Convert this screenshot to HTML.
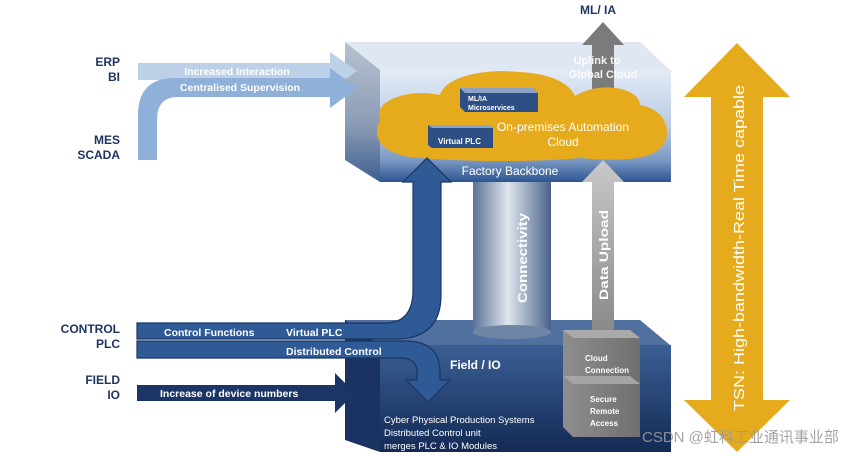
<!DOCTYPE html>
<html><head><meta charset="utf-8"><style>
html,body{margin:0;padding:0;background:#fff;}
svg{display:block;font-family:"Liberation Sans","Noto Sans CJK SC",sans-serif;}
</style></head><body>
<svg width="865" height="456" viewBox="0 0 865 456" xmlns="http://www.w3.org/2000/svg">
<defs>
<linearGradient id="topF" x1="0" y1="0" x2="0" y2="1">
<stop offset="0" stop-color="#e3ebf6"/><stop offset="0.5" stop-color="#b9cbe3"/><stop offset="0.8" stop-color="#7d9ac4"/><stop offset="1" stop-color="#2c5591"/></linearGradient>
<linearGradient id="topS" x1="0" y1="0" x2="0" y2="1">
<stop offset="0" stop-color="#b8c2d0"/><stop offset="0.6" stop-color="#8a9bb5"/><stop offset="1" stop-color="#3e5f8f"/></linearGradient>
<linearGradient id="botF" x1="0" y1="0" x2="0" y2="1">
<stop offset="0" stop-color="#3a5f94"/><stop offset="1" stop-color="#142a55"/></linearGradient>
<linearGradient id="cyl" x1="0" y1="0" x2="1" y2="0">
<stop offset="0" stop-color="#5b7396"/><stop offset="0.45" stop-color="#dfe5ee"/><stop offset="1" stop-color="#4a6288"/></linearGradient>
<linearGradient id="gray" x1="0" y1="0" x2="1" y2="0">
<stop offset="0" stop-color="#8e8e8e"/><stop offset="1" stop-color="#6f6f6f"/></linearGradient>
<linearGradient id="grayArr" x1="0" y1="0" x2="0" y2="1">
<stop offset="0" stop-color="#c8c8c8"/><stop offset="1" stop-color="#8a8a8a"/></linearGradient>
</defs>

<!-- top box -->
<polygon points="345,42 640,42 670,70 380,70" fill="#dfe7f3"/>
<polygon points="345,42 380,70 380,182 345,160" fill="url(#topS)"/>
<rect x="380" y="70" width="291" height="112" fill="url(#topF)"/>
<!-- uplink arrow -->
<polygon points="603,22 624,45 614,45 614,92 592,92 592,45 582,45" fill="#7b7b7b"/>
<text x="597" y="64" font-size="11" fill="#fff" text-anchor="middle" font-weight="bold" opacity="0.9">Uplink to</text>
<text x="603" y="78" font-size="11" fill="#fff" text-anchor="middle" font-weight="bold" opacity="0.9">Global Cloud</text>
<text x="598" y="14" font-size="12" fill="#1f3560" text-anchor="middle" font-weight="bold">ML/ IA</text>
<!-- cloud -->
<path d="M380,120 C372,100 410,88 440,95 C445,78 480,68 520,72 C555,74 570,85 575,96 C600,80 640,88 640,105 C670,110 675,140 655,152 C640,162 600,160 580,158 C540,162 470,162 420,158 C385,156 370,140 380,120 Z" fill="#e5ab1c"/>
<text x="563" y="131" font-size="12" fill="#fff" text-anchor="middle">On-premises Automation</text>
<text x="563" y="146" font-size="12" fill="#fff" text-anchor="middle">Cloud</text>
<polygon points="460,88 533,88 538,93 538,112 465,112 460,107" fill="#2e4e86"/>
<polygon points="460,88 533,88 538,93 465,93" fill="#8ba3c8"/>
<text x="468" y="101" font-size="7" fill="#fff" font-weight="bold">ML/IA</text>
<text x="468" y="110" font-size="7" fill="#fff" font-weight="bold">Microservices</text>
<polygon points="428,125 490,125 493,128 493,148 432,148 428,145" fill="#2e4e86"/>
<polygon points="428,125 490,125 493,128 432,128" fill="#8ba3c8"/>
<text x="438" y="144" font-size="8" fill="#fff" font-weight="bold">Virtual PLC</text>
<text x="510" y="175" font-size="12" fill="#fff" text-anchor="middle">Factory Backbone</text>

<!-- cylinder -->
<rect x="473" y="182" width="78" height="150" fill="url(#cyl)"/>
<text transform="translate(527,303) rotate(-90)" font-size="13" fill="#fff" font-weight="bold" textLength="90" lengthAdjust="spacingAndGlyphs">Connectivity</text>

<!-- bottom box -->
<polygon points="345,320 640,320 670,345 380,345" fill="#50709f"/>
<polygon points="345,320 380,345 380,452 345,440" fill="#1b3363"/>
<rect x="380" y="345" width="291" height="107" fill="url(#botF)"/>
<rect x="473" y="320" width="78" height="12" fill="url(#cyl)"/>
<ellipse cx="512" cy="332" rx="39" ry="7" fill="#6f85a6"/>
<text x="450" y="369" font-size="12" fill="#fff" font-weight="bold">Field / IO</text>
<text x="384" y="423" font-size="9.5" fill="#fff">Cyber Physical Production Systems</text>
<text x="384" y="436" font-size="9.5" fill="#fff">Distributed Control unit</text>
<text x="384" y="449" font-size="9.5" fill="#fff">merges PLC &amp; IO Modules</text>

<!-- data upload arrow -->
<polygon points="603,160 624,182 614,182 614,330 592,330 592,182 582,182" fill="url(#grayArr)"/>
<text transform="translate(608,300) rotate(-90)" font-size="12" fill="#fff" font-weight="bold" textLength="90" lengthAdjust="spacingAndGlyphs">Data Upload</text>
<!-- gray boxes -->
<polygon points="563,330 630,330 640,338 640,388 573,388 563,378" fill="url(#gray)"/>
<polygon points="563,330 630,330 640,338 573,338" fill="#aaa"/>
<polygon points="563,376 630,376 640,384 640,437 573,437 563,427" fill="url(#gray)"/>
<polygon points="563,376 630,376 640,384 573,384" fill="#a5a5a5"/>
<text x="585" y="361" font-size="8" fill="#fff" font-weight="bold">Cloud</text>
<text x="585" y="373" font-size="8" fill="#fff" font-weight="bold">Connection</text>
<text x="590" y="402" font-size="8" fill="#fff" font-weight="bold">Secure</text>
<text x="590" y="414" font-size="8" fill="#fff" font-weight="bold">Remote</text>
<text x="590" y="426" font-size="8" fill="#fff" font-weight="bold">Access</text>

<!-- orange double arrow -->
<polygon points="737,43 790,97 763,97 763,400 790,400 737,452 684,400 711,400 711,97 684,97" fill="#e5ab1c"/>
<text transform="translate(744,411) rotate(-90)" font-size="15" fill="#fff" textLength="326" lengthAdjust="spacingAndGlyphs">TSN: High-bandwidth-Real Time capable</text>

<!-- left labels -->
<g font-size="12" fill="#1f3560" font-weight="bold" text-anchor="end">
<text x="120" y="66">ERP</text><text x="120" y="81">BI</text>
<text x="120" y="144">MES</text><text x="120" y="159">SCADA</text>
<text x="120" y="333">CONTROL</text><text x="120" y="348">PLC</text>
<text x="120" y="384">FIELD</text><text x="120" y="399">IO</text>
</g>
<!-- top left arrows -->
<polygon points="138,63 330,63 330,52 357,71 330,90 330,80 138,80" fill="#bcd0e8"/>
<path d="M138,160 L138,115 Q138,78 175,78 L330,78 L330,68 L357,88 L330,108 L330,97 L178,97 Q157,97 157,120 L157,160 Z" fill="#8fb0d8"/>
<text x="237" y="75" font-size="10.5" fill="#fff" font-weight="bold" text-anchor="middle">Increased Interaction</text>
<text x="240" y="91" font-size="10.5" fill="#fff" font-weight="bold" text-anchor="middle">Centralised Supervision</text>

<!-- control arrows -->
<path d="M137,323 L385,323 Q413,323 413,290 L413,182 L403,182 L427,158 L451,182 L441,182 L441,295 Q441,339 395,339 L137,339 Z" fill="#2e5a95" stroke="#1a3566" stroke-width="1.2"/>
<path d="M137,341 L405,341 Q440,341 440,372 L440,380 L450,380 L428,402 L406,380 L417,380 L417,372 Q417,358 400,358 L137,358 Z" fill="#2e5a95" stroke="#1a3566" stroke-width="1.2"/>
<text x="164" y="336" font-size="10.5" fill="#fff" font-weight="bold">Control Functions</text>
<text x="286" y="336" font-size="10.5" fill="#fff" font-weight="bold">Virtual PLC</text>
<text x="286" y="355" font-size="10.5" fill="#fff" font-weight="bold">Distributed Control</text>
<polygon points="137,385 335,385 335,373 355,393 335,413 335,401 137,401" fill="#1c3566"/>
<text x="160" y="397" font-size="10.5" fill="#fff" font-weight="bold">Increase of device numbers</text>

<text x="642" y="442" font-size="15" fill="#9a9a9a" opacity="0.9">CSDN @虹科工业通讯事业部</text>
</svg>
</body></html>
